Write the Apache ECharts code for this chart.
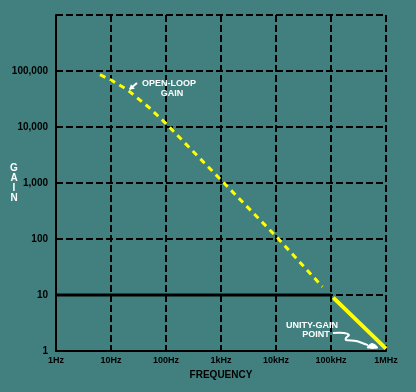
<!DOCTYPE html>
<html><head><meta charset="utf-8">
<script src="https://cdn.jsdelivr.net/npm/echarts@6/dist/echarts.min.js"></script>
<style>html,body{margin:0;padding:0;background:#428080;}#c{width:416px;height:392px;}</style>
</head><body><div id="c"></div>
<script>
// ---- data ----
const xTickLabels = {1:'1Hz',10:'10Hz',100:'100Hz',1000:'1kHz',10000:'10kHz',100000:'100kHz',1000000:'1MHz'};
const openLoopFreq = [6.3, 10, 20, 50, 100, 1000, 10000, 70000];
const openLoopGain = [86000, 69000, 46000, 22000, 11500, 1130, 112, 14];
const closedFreq = [110000, 1000000];
const closedGain = [9, 1.1];
const refFreq = [1, 100000];
const refGain = [10, 10];
// annotation anchors (data coords)
const openArrow = [[29.7, 61000], [22.0, 47500]];
const unityArrow = [[108700, 2.1], [172000, 2.1], [212000, 1.93], [187000, 1.71], [187000, 1.57], [285000, 1.51], [470000, 1.27]];
const unityHead = [[451000, 1.13], [556000, 1.39], [716000, 1.13]];
const labels = [
  {text: 'OPEN-LOOP', at: [113, 61000]},
  {text: 'GAIN', at: [128, 40000]},
  {text: 'UNITY-GAIN', at: [45100, 2.91]},
  {text: 'POINT', at: [53400, 1.93]}
];
const yName = ['G', 'A', 'I', 'N'];

const zip = (a, b) => a.map((v, i) => [v, b[i]]);
const chart = echarts.init(document.getElementById('c'));
const font = 'Liberation Sans, Arial, sans-serif';
chart.setOption({
  backgroundColor: '#428080',
  animation: false,
  grid: {left: 56, right: 30, top: 15, bottom: 41, containLabel: false, outerBoundsMode: 'none'},
  xAxis: {
    type: 'log', logBase: 10, min: 1, max: 1000000,
    axisLine: {show: true, lineStyle: {color: '#000', width: 2}},
    axisTick: {show: false},
    splitLine: {show: true, lineStyle: {color: '#000', width: 2, type: [7, 3]}},
    axisLabel: {margin: 5, color: '#000', fontWeight: 'bold', fontSize: 9, fontFamily: font,
      formatter: v => xTickLabels[Math.round(v)] || ''},
    name: 'FREQUENCY', nameLocation: 'middle', nameGap: 18,
    nameTextStyle: {color: '#000', fontWeight: 'bold', fontSize: 10, fontFamily: font}
  },
  yAxis: {
    type: 'log', logBase: 10, min: 1, max: 1000000,
    axisLine: {show: true, lineStyle: {color: '#000', width: 2}},
    axisTick: {show: false},
    splitLine: {show: true, lineStyle: {color: '#000', width: 2, type: [7, 3]}},
    axisLabel: {margin: 8, color: '#000', fontWeight: 'bold', fontSize: 10, fontFamily: font,
      formatter: v => (Math.round(v) >= 1000000 ? '' : Math.round(v).toLocaleString('en-US'))}
  },
  series: [
    {type: 'line', data: zip(refFreq, refGain), symbol: 'none', lineStyle: {color: '#000', width: 3}, z: 2},
    {type: 'line', data: zip(openLoopFreq, openLoopGain), symbol: 'none', smooth: false,
      lineStyle: {color: '#ffff00', width: 3, type: [6, 5]}, z: 3},
    {type: 'line', data: zip(closedFreq, closedGain), symbol: 'none', lineStyle: {color: '#ffff00', width: 4}, z: 3}
  ]
});

const P = p => chart.convertToPixel({gridIndex: 0}, p);
const g = [];
labels.forEach(l => {
  const q = P(l.at);
  g.push({type: 'text', x: q[0], y: q[1], z: 10,
    style: {text: l.text, fill: '#fff', font: 'bold 9px ' + font, textAlign: 'center', textVerticalAlign: 'middle'}});
});
// vertical axis name
{
  const left = P([1, 1000]);
  const mid = (P([1, 1])[1] + P([1, 1000000])[1]) / 2;
  yName.forEach((ch, i) => {
    g.push({type: 'text', x: left[0] - 42, y: mid - 15 + i * 10, z: 10,
      style: {text: ch, fill: '#fff', font: 'bold 10px ' + font, textAlign: 'center', textVerticalAlign: 'middle'}});
  });
}
const oa = openArrow.map(P);
g.push({type: 'polyline', z: 10, shape: {points: oa}, style: {stroke: '#fff', lineWidth: 2, fill: null}});
{
  const [t, h] = oa; const dx = h[0] - t[0], dy = h[1] - t[1]; const L = Math.hypot(dx, dy);
  const ux = dx / L, uy = dy / L, nx = -uy, ny = ux;
  const b = [h[0] - ux * 4, h[1] - uy * 4];
  g.push({type: 'polygon', z: 10, shape: {points: [[h[0] + ux, h[1] + uy], [b[0] + nx * 3, b[1] + ny * 3], [b[0] - nx * 3, b[1] - ny * 3]]}, style: {fill: '#fff'}});
}
g.push({type: 'polyline', z: 10, shape: {points: unityArrow.map(P), smooth: 0.3}, style: {stroke: '#fff', lineWidth: 2, fill: null}});
g.push({type: 'polygon', z: 10, shape: {points: unityHead.map(P), smooth: 0.4}, style: {fill: '#fff'}});
chart.setOption({graphic: g});
</script></body></html>
